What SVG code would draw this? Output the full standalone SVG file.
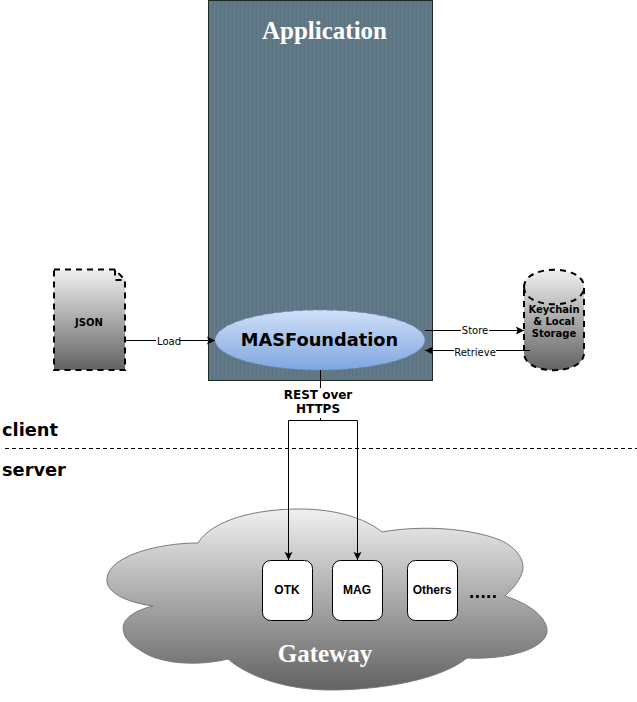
<svg xmlns="http://www.w3.org/2000/svg" width="637" height="702" viewBox="0 0 637 702">
<style>
.v{font-family:"DejaVu Sans",Verdana,sans-serif;fill:#000}
.b{font-weight:bold}
.h{font-family:"Liberation Sans",Arial,sans-serif;font-weight:bold;font-size:12px;fill:#000;text-anchor:middle}
.s{font-family:"Liberation Serif","Times New Roman",serif;font-weight:bold;fill:#fff;text-anchor:middle}
.m{text-anchor:middle}
.c{fill:none;stroke:#000;stroke-width:1}
.d{stroke:#000;stroke-width:2;stroke-dasharray:6 5}
.box{fill:#fff;stroke:#000;stroke-width:1}
.lb{fill:#fff;stroke:none}
</style>
<defs>
<linearGradient id="g" x1="0" y1="0" x2="0" y2="1"><stop offset="0" stop-color="#f0f0f0"/><stop offset="1" stop-color="#626262"/></linearGradient>
<linearGradient id="b" x1="0" y1="0" x2="0" y2="1"><stop offset="0" stop-color="#d0e0f8"/><stop offset="1" stop-color="#7ea6e0"/></linearGradient>
<pattern id="st" width="4" height="4" patternUnits="userSpaceOnUse"><rect width="4" height="4" fill="#607786"/><rect width="1" height="4" fill="#5d7483"/><rect x="2" width="1" height="4" fill="#637a89"/></pattern>
<marker id="a" markerWidth="9" markerHeight="9" refX="8" refY="4.500" orient="auto" markerUnits="userSpaceOnUse"><path d="M0,0.500 L8,4.500 L0,8.500 L1.500,4.500 Z" fill="#000"/></marker>
</defs>
<g id="application">
<rect x="208.500" y="0.500" width="224" height="380" fill="url(#st)" stroke="#1f2a25"/>
<text class="s" x="324.500" y="39" font-size="25">Application</text>
</g>
<g id="gateway">
<path d="M198,543 C212,520 255,509 300,509 C335,509 365,518 382,532 C420,525 470,528 500,540 C518,548 526,562 522,573 C518,584 510,591 505,596 C530,604 548,618 547,632 C545,648 510,660 467,658 C440,680 380,690 330,690 C290,690 250,678 228,659 C200,666 160,665 140,650 C122,640 118,625 130,616 C136,611 145,608 153,606 C125,602 105,592 107,578 C110,555 160,543 198,543 Z" fill="url(#g)" stroke="#7a7a7a"/>
<text class="s" x="325" y="662" font-size="25">Gateway</text>
</g>
<g id="otk"><rect class="box" x="262.500" y="560.500" width="50" height="60" rx="8"/><text class="h" x="287" y="594">OTK</text></g>
<g id="mag"><rect class="box" x="332.500" y="560.500" width="50" height="60" rx="8"/><text class="h" x="357" y="594">MAG</text></g>
<g id="others"><rect class="box" x="407.500" y="560.500" width="50" height="60" rx="8"/><text class="h" x="432" y="594">Others</text></g>
<g id="dots"><text class="v b m" x="483" y="598" font-size="15">.....</text></g>
<g id="json">
<path class="d" d="M54,269.500 H115 L125,280 V370 H54 Z" fill="url(#g)"/>
<path class="d" d="M115,269.500 V280 H125" fill="none" stroke-dasharray="4 3"/>
<text class="v b m" x="89" y="326" font-size="10">JSON</text>
</g>
<g id="storage">
<path class="d" d="M524,287 C524,264 584,264 584,287 V353 C584,376 524,376 524,353 Z" fill="url(#g)"/>
<path class="d" d="M524,287 C524,310 584,310 584,287" fill="none"/>
<text class="v b m" x="554" y="313" font-size="10">Keychain</text>
<text class="v b m" x="554" y="325" font-size="10">&amp; Local</text>
<text class="v b m" x="554" y="337" font-size="10">Storage</text>
</g>
<g id="masfoundation">
<ellipse cx="320" cy="340" rx="105" ry="30" fill="url(#b)" stroke="#6c8ebf" stroke-dasharray="6 4"/>
<text class="v b m" x="319.500" y="346" font-size="17.800">MASFoundation</text>
</g>
<g id="connectors">
<path class="c" d="M125,340.500 H215" marker-end="url(#a)"/>
<path class="c" d="M425,330.500 H524" marker-end="url(#a)"/>
<path class="c" d="M530,350.500 H425" marker-end="url(#a)"/>
<path class="c" d="M320.500,370 V420.500 H288.500 V560" marker-end="url(#a)"/>
<path class="c" d="M320.500,420.500 H357.500 V560" marker-end="url(#a)"/>
<rect class="lb" x="156" y="335" width="24" height="11"/>
<text class="v m" x="169" y="345" font-size="10">Load</text>
<rect class="lb" x="461" y="324" width="28" height="11"/>
<text class="v m" x="475" y="334" font-size="10">Store</text>
<rect class="lb" x="454" y="345" width="42" height="11"/>
<text class="v m" x="475" y="356" font-size="10">Retrieve</text>
<rect class="lb" x="283" y="388" width="72" height="30"/>
<text class="v b m" x="318" y="399" font-size="12">REST over</text>
<text class="v b m" x="318" y="413" font-size="12">HTTPS</text>
</g>
<g id="boundary">
<path d="M5,448.500 H637" stroke="#000" stroke-dasharray="4 3" fill="none"/>
<text class="v b" x="2" y="436" font-size="17.800">client</text>
<text class="v b" x="2" y="476" font-size="17.800">server</text>
</g>
</svg>
